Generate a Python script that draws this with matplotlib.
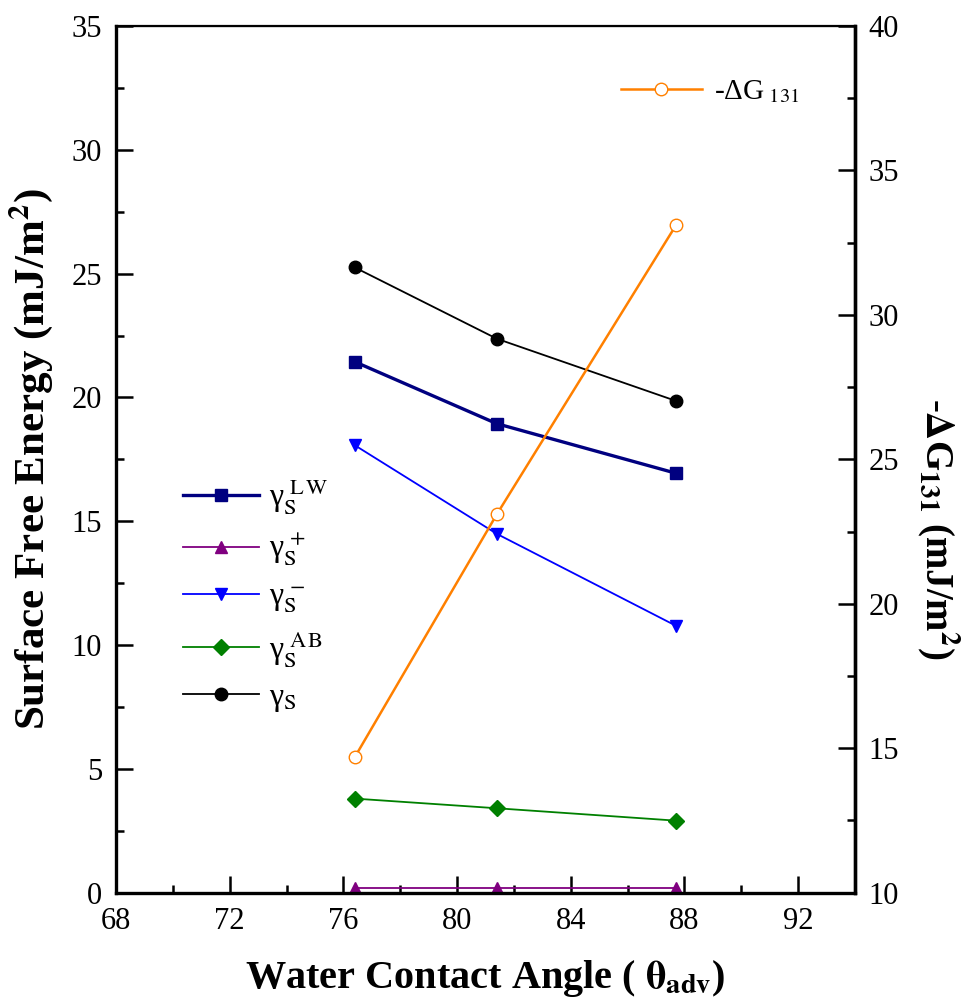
import matplotlib
matplotlib.use("Agg")
import matplotlib.pyplot as plt
from matplotlib.ticker import MultipleLocator

plt.rcParams['font.family'] = ['Liberation Serif', 'DejaVu Serif']
plt.rcParams['mathtext.fontset'] = 'stix'

# advancing water contact angle of the three surfaces
angle = [76.4, 81.4, 87.7]

# surface free energy components (mJ/m2)
gamma_lw = [21.44, 18.94, 16.94]
gamma_plus = [0.2, 0.2, 0.2]
gamma_minus = [18.07, 14.49, 10.78]
gamma_ab = [3.80, 3.41, 2.91]
gamma_total = [25.25, 22.37, 19.86]

# free energy of interaction -dG131 (mJ/m2)
dg131 = [14.69, 23.10, 33.10]

left_series = [
    (gamma_lw, r'γ$_{\mathrm{S}}^{\ \mathrm{L\,W}}$', '#000080', 's', 2.4),
    (gamma_plus, r'γ$_{\mathrm{S}}^{\ \mathrm{+}}$', '#800080', '^', 1.3),
    (gamma_minus, r'γ$_{\mathrm{S}}^{\ \mathrm{-}}$', '#0000FF', 'v', 1.3),
    (gamma_ab, r'γ$_{\mathrm{S}}^{\ \mathrm{A\,B}}$', '#008000', 'D', 1.3),
    (gamma_total, r'γ$_{\mathrm{S}}$', '#000000', 'o', 1.3),
]

fig = plt.figure(figsize=(9.8, 10.07), dpi=100)
ax = fig.add_axes([0.1184, 0.1135, 0.754, 0.8607])

for values, label, color, marker, lw in left_series:
    ms = 8 if marker == 'D' else 9
    ax.plot(angle, values, color=color, marker=marker, markersize=ms,
            linewidth=lw, label=label)

ax.set_xlim(68, 94)
ax.set_ylim(0, 35)
ax.xaxis.set_major_locator(MultipleLocator(4))
ax.xaxis.set_minor_locator(MultipleLocator(2))
ax.yaxis.set_major_locator(MultipleLocator(5))
ax.yaxis.set_minor_locator(MultipleLocator(2.5))
ax.tick_params(which='both', direction='in', top=False, right=False,
               width=1.8, labelsize=22, pad=10)
ax.tick_params(which='major', length=12)
ax.tick_params(which='minor', length=6)

for side in ['left', 'bottom', 'right']:
    ax.spines[side].set_linewidth(2.4)
ax.spines['top'].set_linewidth(1.6)

ax.set_xlabel(r'Water Contact Angle ( $\mathbf{\theta_{adv}}$)', fontsize=29,
              fontweight='bold', labelpad=16)
ax.set_ylabel(r'Surface Free Energy (mJ/m$\mathbf{^2}$)', fontsize=31,
              fontweight='bold', labelpad=12)

ax.legend(loc='lower left', bbox_to_anchor=(0.06, 0.18), frameon=False,
          fontsize=23, handlelength=2.4, labelspacing=0.45,
          handletextpad=0.3, borderpad=0.2)

ax2 = ax.twinx()
ax2.plot(angle, dg131, color='#FF8000', marker='o', markersize=9,
         markerfacecolor='white', markeredgecolor='#FF8000', linewidth=1.8,
         label=r'-ΔG$_{\ \mathrm{131}}$')
ax2.set_ylim(10, 40)
ax2.yaxis.set_major_locator(MultipleLocator(5))
ax2.yaxis.set_minor_locator(MultipleLocator(2.5))
ax2.tick_params(which='both', direction='in', width=1.8, labelsize=22, pad=10)
ax2.tick_params(which='major', length=12)
ax2.tick_params(which='minor', length=6)
ax2.spines['right'].set_linewidth(2.4)
ax2.set_ylabel(r'-$\mathbf{\Delta}$G$\mathbf{_{131}}$ (mJ/m$\mathbf{^2}$)',
               fontsize=28, fontweight='bold', rotation=270)
ax2.yaxis.set_label_coords(1.145, 0.42)
ax2.legend(loc='upper right', bbox_to_anchor=(0.96, 0.97), frameon=False,
           fontsize=21, handlelength=2.8, handletextpad=0.4)

fig.savefig('out.png', dpi=100)
